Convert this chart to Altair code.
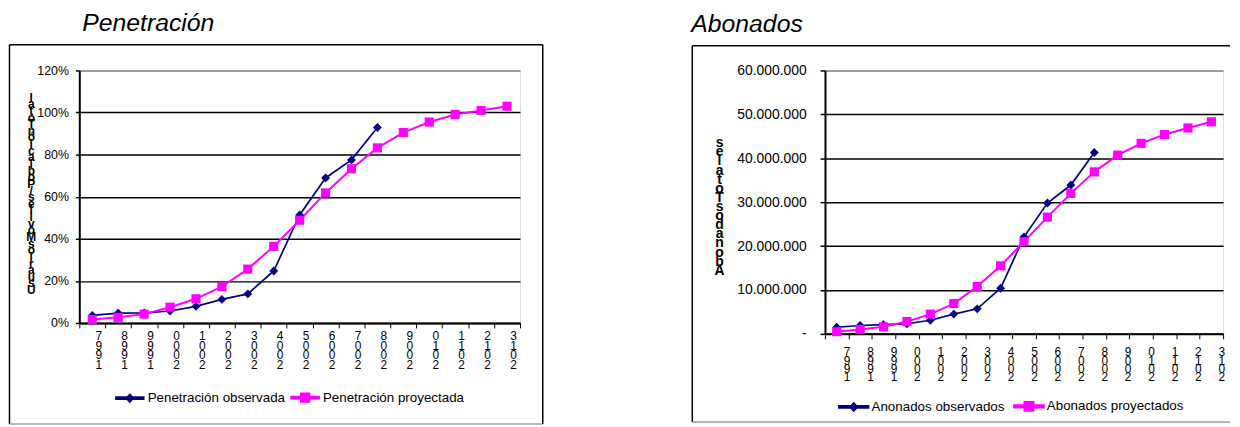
import altair as alt
import pandas as pd

FONT = "Liberation Sans"

# ---------------- data ----------------
YEARS = ["1997", "1998", "1999", "2000", "2001", "2002", "2003", "2004", "2005",
         "2006", "2007", "2008", "2009", "2010", "2011", "2012", "2013"]

PEN_SERIES = ["Penetración observada", "Penetración proyectada"]
PEN_OBS = [3.6, 4.7, 4.8, 5.7, 7.9, 11.2, 13.8, 24.7, 51.3, 68.9, 77.5, 92.9]
PEN_PROJ = [1.6, 2.7, 4.2, 7.5, 11.5, 17.3, 25.6, 36.4, 48.8, 61.8, 73.3, 83.2,
            90.5, 95.5, 99.1, 101.0, 103.0]
PEN_TICKS = [0, 20, 40, 60, 80, 100, 120]

ABO_SERIES = ["Anonados observados", "Abonados proyectados"]
ABO_OBS = [1500000, 1900000, 2100000, 2300000, 3100000, 4500000, 5700000,
           10400000, 22100000, 29800000, 33900000, 41300000]
ABO_PROJ = [500000, 1000000, 1600000, 2800000, 4500000, 6900000, 10800000,
            15500000, 21000000, 26600000, 32000000, 36900000, 40700000,
            43400000, 45400000, 46900000, 48300000]
ABO_TICKS = [0, 10000000, 20000000, 30000000, 40000000, 50000000, 60000000]

COLORS = ["#000080", "#FF00FF"]

PEN_TITLE = "Penetración"
ABO_TITLE = "Abonados"
PEN_YTITLE = "Usuarios Móviles/Población Total"
ABO_YTITLE = "Abonados Totales"

# legend symbols: a line with a diamond / with a square (unit-box SVG paths)
LEG_SHAPES = ["M-1,-0.07H1V0.07H-1ZM0,-0.27L0.25,0L0,0.27L-0.25,0Z",
              "M-1,-0.07H1V0.07H-1ZM-0.3,-0.3H0.3V0.3H-0.3Z"]


def long_df(obs, proj, names):
    rows = []
    for i, v in enumerate(obs):
        rows.append({"anio": YEARS[i], "serie": names[0], "valor": v})
    for i, v in enumerate(proj):
        rows.append({"anio": YEARS[i], "serie": names[1], "valor": v})
    return pd.DataFrame(rows)


def panel(df, names, title, ytitle, ydomain, yticks, ylabel_expr, g):
    one = pd.DataFrame({"t": [title]})
    legend = alt.Legend(
        orient="none", legendX=g["legX"], legendY=g["legY"], direction="horizontal",
        title=None, labelFont=FONT, labelFontSize=g["legFont"], labelColor="black",
        symbolSize=g["sym"] * g["sym"], labelOffset=g["legOff"],
        columnPadding=g["legPad"], padding=0, labelLimit=300,
    )
    color = alt.Color("serie:N", scale=alt.Scale(domain=names, range=COLORS), legend=legend)
    x = alt.X(
        "anio:O", sort=YEARS,
        scale=alt.Scale(type="band", domain=YEARS, paddingInner=0, paddingOuter=0),
        axis=alt.Axis(
            title=None, labelAngle=0, labelAlign="center", labelBaseline="top",
            labelExpr="[substring(datum.label,3,4), substring(datum.label,2,3), substring(datum.label,1,2), substring(datum.label,0,1)]",
            labelLineHeight=g["xLine"], labelFontSize=g["xFont"], labelFont=FONT,
            labelColor="black", labelOffset=g["xDx"], labelPadding=g["xPad"],
            tickBand="extent", tickSize=5, tickColor="black", tickWidth=1,
            domainColor="black", domainWidth=2, grid=False, labelOverlap=False,
        ),
    )
    y = alt.Y(
        "valor:Q",
        scale=alt.Scale(domain=ydomain, nice=False, zero=True),
        axis=alt.Axis(
            values=yticks, labelExpr=ylabel_expr, labelFont=FONT,
            labelFontSize=g["yFont"], labelColor="black", labelPadding=g["yPad"],
            tickSize=g["yTick"], tickColor="black", tickWidth=1.5,
            domainColor="black", domainWidth=2,
            grid=True, gridWidth=1.5,
            gridColor={"condition": {"test": f"datum.value >= {ydomain[1]}", "value": "#808080"}, "value": "black"},
            title=list(reversed(ytitle)), titleAngle=0, titleAlign="center",
            titleBaseline="top", titleX=g["tX"], titleY=g["tY"],
            titleLineHeight=g["tLine"], titleFontSize=g["tFont"],
            titleFontWeight="bold", titleFont=FONT, titleColor="black",
        ),
    )
    base = alt.Chart(df)
    lines = base.mark_line().encode(
        x=x, y=y, color=color,
        strokeWidth=alt.StrokeWidth("serie:N", scale=alt.Scale(domain=names, range=[1.7, 2]), legend=None),
    )
    pts_obs = base.transform_filter(alt.datum.serie == names[0]).mark_point(
        filled=True, opacity=1, size=80, shape="diamond").encode(x=x, y=y, color=color)
    pts_proj = base.transform_filter(alt.datum.serie == names[1]).mark_point(
        filled=True, opacity=1, size=85, shape="square").encode(x=x, y=y, color=color)
    # empty layer that only feeds the legend with line+marker symbols
    leg = base.transform_filter("false").mark_point(
        filled=True, opacity=1, size=g["sym"] * g["sym"]).encode(
        x=x, y=y, color=color,
        shape=alt.Shape("serie:N", scale=alt.Scale(domain=names, range=LEG_SHAPES), legend=legend),
    )
    ttl = alt.Chart(one).mark_text(
        align="left", baseline="alphabetic", font=FONT, fontSize=25,
        fontStyle="italic", color="black",
    ).encode(text="t:N", x=alt.value(g["titleX"]), y=alt.value(g["titleY"]))

    bx0, bx1, by0, by1 = g["box"]
    box = [
        alt.Chart(one).mark_rule(color="#000000", strokeWidth=1.5).encode(
            x=alt.value(bx0), x2=alt.value(bx1), y=alt.value(by0)),
        alt.Chart(one).mark_rule(color="#000000", strokeWidth=1.5).encode(
            x=alt.value(bx0), y=alt.value(by0), y2=alt.value(by1)),
        alt.Chart(one).mark_rule(color="#A0A0A0", strokeWidth=1.5).encode(
            x=alt.value(bx0), x2=alt.value(bx1), y=alt.value(by1)),
    ]
    if g["rightEdge"]:
        box.append(alt.Chart(one).mark_rule(color="#000000", strokeWidth=1.5).encode(
            x=alt.value(bx1), y=alt.value(by0), y2=alt.value(by1)))

    return alt.layer(*box, ttl, lines, pts_obs, pts_proj, leg).properties(width=g["w"], height=g["h"])


pen_geom = dict(w=445, h=255, legX=36, legY=315, legFont=13.5, sym=28, legOff=3, legPad=2,
                xLine=9.5, xFont=12, xDx=6, xPad=3, yFont=12.5, yPad=7, yTick=4,
                tX=-49, tY=22, tLine=6.7, tFont=12, titleX=3, titleY=-40,
                box=(-70.5, 468, -26, 357), rightEdge=True)
abo_geom = dict(w=402, h=266, legX=13, legY=323, legFont=13.5, sym=30, legOff=2, legPad=5,
                xLine=8.5, xFont=12, xDx=10, xPad=8, yFont=14, yPad=14, yTick=5,
                tX=-107, tY=66, tLine=9.2, tFont=14, titleX=-135, titleY=-39,
                box=(-134, 409, -25, 355), rightEdge=False)

left = panel(long_df(PEN_OBS, PEN_PROJ, PEN_SERIES), PEN_SERIES, PEN_TITLE, PEN_YTITLE,
             [0, 120], PEN_TICKS, "datum.value + '%'", pen_geom)
right = panel(long_df(ABO_OBS, ABO_PROJ, ABO_SERIES), ABO_SERIES, ABO_TITLE, ABO_YTITLE,
              [0, 60000000], ABO_TICKS,
              "datum.value == 0 ? '-' : replace(format(datum.value, ',d'), regexp(',', 'g'), '.')",
              abo_geom)

chart = alt.hconcat(left, right, spacing=147).resolve_scale(
    color="independent", shape="independent", strokeWidth="independent"
).resolve_legend(color="independent", shape="independent").properties(padding=0).configure_view(
    fill="#C0C0C0", stroke="#808080", strokeWidth=1.5
).configure(background="white")

chart.save("out.html", embed_options={"renderer": "svg", "actions": False})
